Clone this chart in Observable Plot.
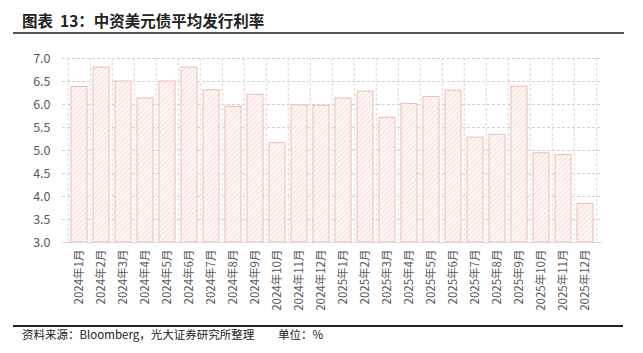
<!DOCTYPE html>
<html>
<head>
<meta charset="utf-8">
<script src="https://cdn.jsdelivr.net/npm/d3@7"></script>
<script src="https://cdn.jsdelivr.net/npm/@observablehq/plot@0.6"></script>
<style>
  html, body { margin: 0; padding: 0; background: #fff; }
  body { width: 643px; height: 353px; position: relative; overflow: hidden;
         font-family: "Noto Sans CJK SC", "Noto Sans", sans-serif; }
  #title { position: absolute; left: 22px; top: 9px; font-size: 15.5px; font-weight: bold; color: #222; white-space: pre; }
  #tline { position: absolute; left: 13px; top: 32px; width: 611px; height: 2px; background: #555; }
  #chart { position: absolute; left: 0; top: 40px; }
  #fline { position: absolute; left: 13px; top: 325px; width: 610px; height: 1.5px; background: #222; }
  #foot { position: absolute; left: 22px; top: 325px; font-size: 11.5px; color: #222; white-space: nowrap; line-height: 18px; }
  #unit { position: absolute; left: 278px; top: 325px; font-size: 11.5px; color: #222; white-space: nowrap; line-height: 18px; }
</style>
</head>
<body>
<div id="title">图表  13：中资美元债平均发行利率</div>
<div id="tline"></div>
<div id="chart"></div>
<div id="fline"></div>
<div id="foot">资料来源：Bloomberg，光大证券研究所整理</div>
<div id="unit">单位：%</div>
<script>
const months = ["2024年1月","2024年2月","2024年3月","2024年4月","2024年5月","2024年6月","2024年7月","2024年8月","2024年9月","2024年10月","2024年11月","2024年12月",
                "2025年1月","2025年2月","2025年3月","2025年4月","2025年5月","2025年6月","2025年7月","2025年8月","2025年9月","2025年10月","2025年11月","2025年12月"];
const rates = [6.38, 6.80, 6.50, 6.13, 6.50, 6.80, 6.31, 5.95, 6.21, 5.16, 5.98, 5.97,
               6.13, 6.28, 5.71, 6.01, 6.16, 6.30, 5.28, 5.34, 6.39, 4.94, 4.90, 3.84];
const yTicks = [3.0, 3.5, 4.0, 4.5, 5.0, 5.5, 6.0, 6.5, 7.0];

const data = months.map((m, i) => ({month: m, rate: rates[i]}));

const W = 643, H = 280, mL = 62, mR = 41;
const step = (W - mL - mR) / months.length;

const chart = Plot.plot({
  width: W,
  height: H,
  marginLeft: mL,
  marginRight: mR,
  marginTop: 18,
  marginBottom: 78,
  style: {fontFamily: '"Noto Sans CJK SC", "Noto Sans", sans-serif', fontSize: "11.5px", color: "#595959", background: "#fff"},
  x: {domain: months, paddingInner: 0.29, paddingOuter: 0.145, label: null},
  y: {domain: [3, 7], label: null},
  marks: [
    Plot.gridY(yTicks, {stroke: "#d0d0d0", strokeOpacity: 1, strokeDasharray: "3,2"}),
    Plot.ruleX(months, {x: d => d, dx: -step / 2, stroke: "#d8d8d8", strokeDasharray: "3,2", strokeWidth: 1}),
    Plot.ruleX([months[months.length - 1]], {x: d => d, dx: step / 2, stroke: "#d8d8d8", strokeDasharray: "3,2", strokeWidth: 1}),
    Plot.barY(data, {x: "month", y1: 3, y2: "rate", fill: "url(#hatch)", stroke: "#efbcae", strokeWidth: 1}),
    Plot.ruleY([3], {stroke: "#d9d9d9", strokeWidth: 1}),
    Plot.axisY(yTicks, {tickSize: 0, tickPadding: 12, tickFormat: d => d.toFixed(1), fontSize: 12.5, fill: "#595959"}),
    Plot.axisX({tickSize: 0, tickPadding: 7, tickRotate: -90, fill: "#595959", fontSize: 11.5})
  ]
});

const ns = "http://www.w3.org/2000/svg";
const defs = document.createElementNS(ns, "defs");
defs.innerHTML = `<pattern id="hatch" patternUnits="userSpaceOnUse" width="3.5" height="3.5" patternTransform="rotate(45)">
  <rect width="3.5" height="3.5" fill="#fef7f5"></rect>
  <line x1="0" y1="0" x2="0" y2="3.5" stroke="#f6c6b9" stroke-width="1"></line>
</pattern>`;
chart.insertBefore(defs, chart.firstChild);
document.getElementById("chart").appendChild(chart);
</script>
</body>
</html>
